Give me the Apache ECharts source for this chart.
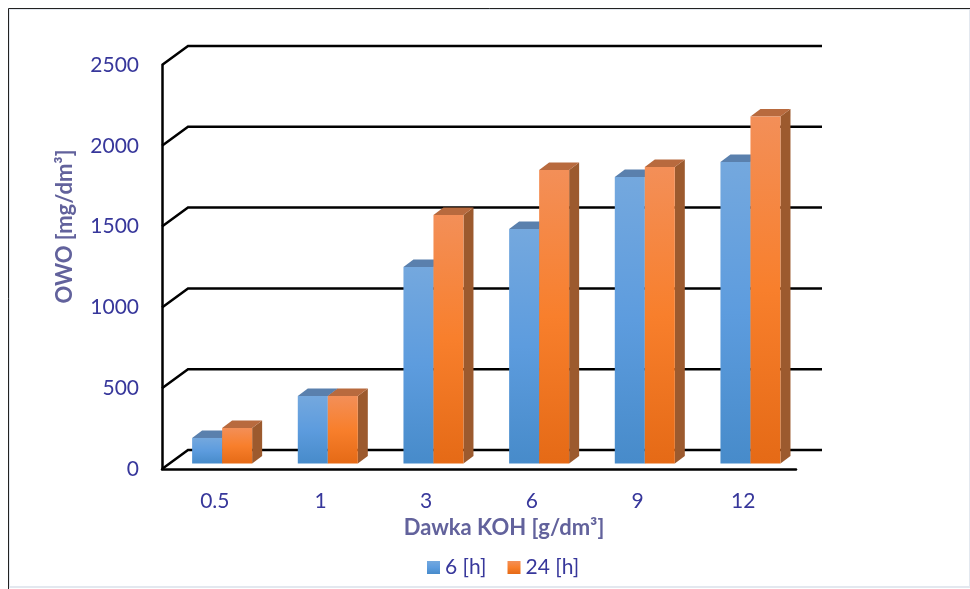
<!DOCTYPE html>
<html>
<head>
<meta charset="utf-8">
<style>
html, body { margin: 0; padding: 0; background: #fff; }
#chart { width: 970px; height: 589px; }
</style>
<script src="https://cdn.jsdelivr.net/npm/echarts@6/dist/echarts.min.js"></script>
</head>
<body>
<div id="chart"></div>
<script>
var categories = ['0.5', '1', '3', '6', '9', '12']
var values6h = [158, 418, 1216, 1451, 1773, 1866]
var values24h = [220, 418, 1538, 1816, 1835, 2147]
var wallValues = [0, 500, 1000, 1500, 2000, 2500]
var name6h = '6 [h]'
var name24h = '24 [h]'

var fontName = 'Lato'
var textColor = '#37379b'
var titleColor = '#62629c'

// depth of the fake 3d box, the bars stand a bit inside of it
var wallDx = 26, wallDy = -19
var barDx = 7.3, barDy = -5.5
var sideDx = 10, sideDy = -7.5

function vgrad(stops) {
    return {
        type: 'linear', x: 0, y: 0, x2: 0, y2: 1,
        colorStops: stops.map(function (c, i) {
            return { offset: i / (stops.length - 1), color: c }
        })
    }
}

var blueFront = vgrad(['#74a8de', '#5d9cde', '#478bca'])
var orangeFront = vgrad(['#f38f58', '#f87f2c', '#e56a16'])

function wallItem(params, api) {
    var cs = params.coordSys
    var y = api.coord([0, api.value(1)])[1]
    return {
        type: 'polyline',
        shape: { points: [[cs.x, y], [cs.x + wallDx, y + wallDy], [cs.x + cs.width + wallDx, y + wallDy]] },
        style: { stroke: '#000', lineWidth: 2.5, fill: null }
    }
}

function barItem(shift, front, topColor, sideColor) {
    return function (params, api) {
        var top = api.coord([api.value(0), api.value(1)])
        var bottom = api.coord([api.value(0), 0])
        var w = api.size([1, 0])[0] * 0.284
        var x = top[0] + barDx + (shift < 0 ? -w : 0)
        var y = top[1] + barDy
        var y0 = bottom[1] + barDy
        return {
            type: 'group',
            children: [
                {
                    type: 'polygon',
                    shape: { points: [[x + w, y], [x + w + sideDx, y + sideDy], [x + w + sideDx, y0 + sideDy], [x + w, y0]] },
                    style: { fill: sideColor }
                },
                {
                    type: 'polygon',
                    shape: { points: [[x, y], [x + sideDx, y + sideDy], [x + w + sideDx, y + sideDy], [x + w, y]] },
                    style: { fill: topColor }
                },
                {
                    type: 'rect',
                    shape: { x: x, y: y, width: w, height: y0 - y },
                    style: { fill: front }
                }
            ]
        }
    }
}

var chart = echarts.init(document.getElementById('chart'), null, { renderer: 'canvas' })

var option = {
    animation: false,
    backgroundColor: '#fff',
    textStyle: { fontFamily: fontName },
    grid: { left: 162, right: 174, top: 65, bottom: 120 },
    legend: {
        data: [name6h, name24h],
        left: 422,
        top: 552,
        icon: 'rect',
        itemWidth: 13,
        itemHeight: 13,
        itemGap: 21,
        itemStyle: { borderWidth: 0 },
        textStyle: { color: textColor, fontSize: 21, fontFamily: fontName }
    },
    xAxis: {
        type: 'category',
        data: categories,
        name: 'Dawka KOH [g/dm³]',
        nameLocation: 'middle',
        nameGap: 47,
        nameTextStyle: { color: titleColor, fontSize: 22, fontWeight: 'bold', fontFamily: fontName, padding: [0, 0, 0, 50] },
        axisLine: { lineStyle: { color: '#000', width: 2.5 } },
        axisTick: { show: false },
        axisLabel: { color: textColor, fontSize: 21, margin: 22, fontFamily: fontName }
    },
    yAxis: {
        type: 'value',
        min: 0,
        max: 2500,
        interval: 500,
        name: 'OWO [mg/dm³]',
        nameLocation: 'middle',
        nameGap: 86,
        nameTextStyle: { color: titleColor, fontSize: 22, fontWeight: 'bold', fontFamily: fontName, padding: [0, 0, 0, 81] },
        axisLine: { show: true, lineStyle: { color: '#000', width: 2.5 } },
        axisTick: { show: false },
        splitLine: { show: false },
        axisLabel: {
            color: textColor,
            fontSize: 21,
            margin: 23,
            fontFamily: fontName,
            padding: [5, 0, 0, 0],
            formatter: function (v) { return String(v) }
        }
    },
    series: [
        {
            type: 'custom',
            name: 'wall',
            z: 1,
            renderItem: wallItem,
            data: wallValues.map(function (v) { return [0, v] })
        },
        {
            type: 'custom',
            name: name6h,
            z: 2,
            itemStyle: { color: blueFront },
            renderItem: barItem(-1, blueFront, '#5a80ad', '#3f6f9f'),
            data: values6h.map(function (v, i) { return [i, v] })
        },
        {
            type: 'custom',
            name: name24h,
            z: 3,
            itemStyle: { color: orangeFront },
            renderItem: barItem(1, orangeFront, '#b86a3e', '#9c5a2e'),
            data: values24h.map(function (v, i) { return [i, v] })
        }
    ],
    graphic: [
        { type: 'rect', silent: true, z: 0, shape: { x: 9, y: 9, width: 961, height: 578 }, style: { fill: null, stroke: '#e3e8ef', lineWidth: 2 } },
        { type: 'polyline', silent: true, z: 1, shape: { points: [[8.5, 589], [8.5, 8.5], [970, 8.5]] }, style: { stroke: '#222', lineWidth: 1, fill: null } }
    ]
}

chart.setOption(option)
</script>
</body>
</html>
